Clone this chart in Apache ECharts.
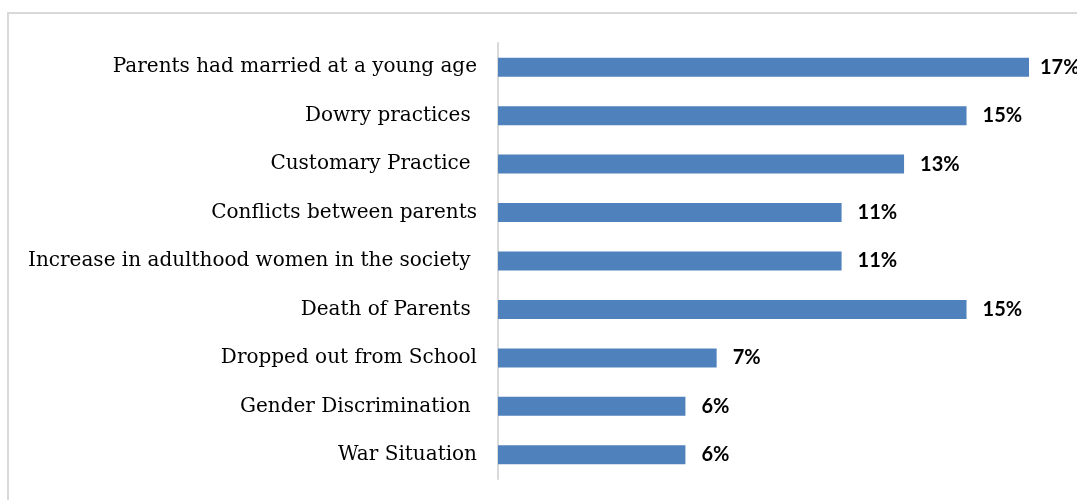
<!DOCTYPE html>
<html>
<head>
<meta charset="utf-8">
<script src="https://cdn.jsdelivr.net/npm/echarts@6/dist/echarts.min.js"></script>
<style>
  html, body { margin: 0; padding: 0; background: #fff; }
  #main { width: 1077px; height: 500px; }
</style>
</head>
<body>
<div id="main"></div>
<script>
// categories, top to bottom as in the picture
var categories = [
  'Parents had married at a young age',
  'Dowry practices ',
  'Customary Practice ',
  'Conflicts between parents',
  'Increase in adulthood women in the society ',
  'Death of Parents ',
  'Dropped out from School',
  'Gender Discrimination ',
  'War Situation'
];
var values = [17, 15, 13, 11, 11, 15, 7, 6, 6];

var chart = echarts.init(document.getElementById('main'));

// the largest label sits a bit closer to its bar (it runs off the edge)
var maxVal = Math.max.apply(null, values);
var barData = values.map(function (v) {
  return v === maxVal ? { value: v, label: { distance: 11 } } : v;
});

var option = {
  backgroundColor: '#fff',
  animation: false,
  graphic: [{
    type: 'rect',
    shape: { x: 8, y: 13, width: 1200, height: 600 },
    style: { fill: 'none', stroke: '#d9d9d9', lineWidth: 2 },
    silent: true
  }],
  grid: { left: 498, right: 48, top: 43, bottom: 21 },
  xAxis: {
    type: 'value',
    min: 0,
    max: 17,
    show: false
  },
  yAxis: {
    type: 'category',
    data: categories,
    inverse: true,
    axisLine: { show: true, lineStyle: { color: '#d9d9d9', width: 2 } },
    axisTick: { show: false },
    axisLabel: {
      margin: 21,
      color: '#000',
      fontFamily: 'DejaVu Serif',
      fontSize: 20,
      padding: [4, 0, 0, 0]
    }
  },
  series: [{
    type: 'bar',
    data: barData,
    barWidth: 19,
    itemStyle: { color: '#4f81bd' },
    label: {
      show: true,
      position: 'right',
      distance: 16,
      formatter: '{c}%',
      color: '#000',
      fontFamily: 'Lato',
      fontWeight: 'bold',
      fontSize: 20,
      padding: [4, 0, 0, 0]
    }
  }]
};

chart.setOption(option);
</script>
</body>
</html>
